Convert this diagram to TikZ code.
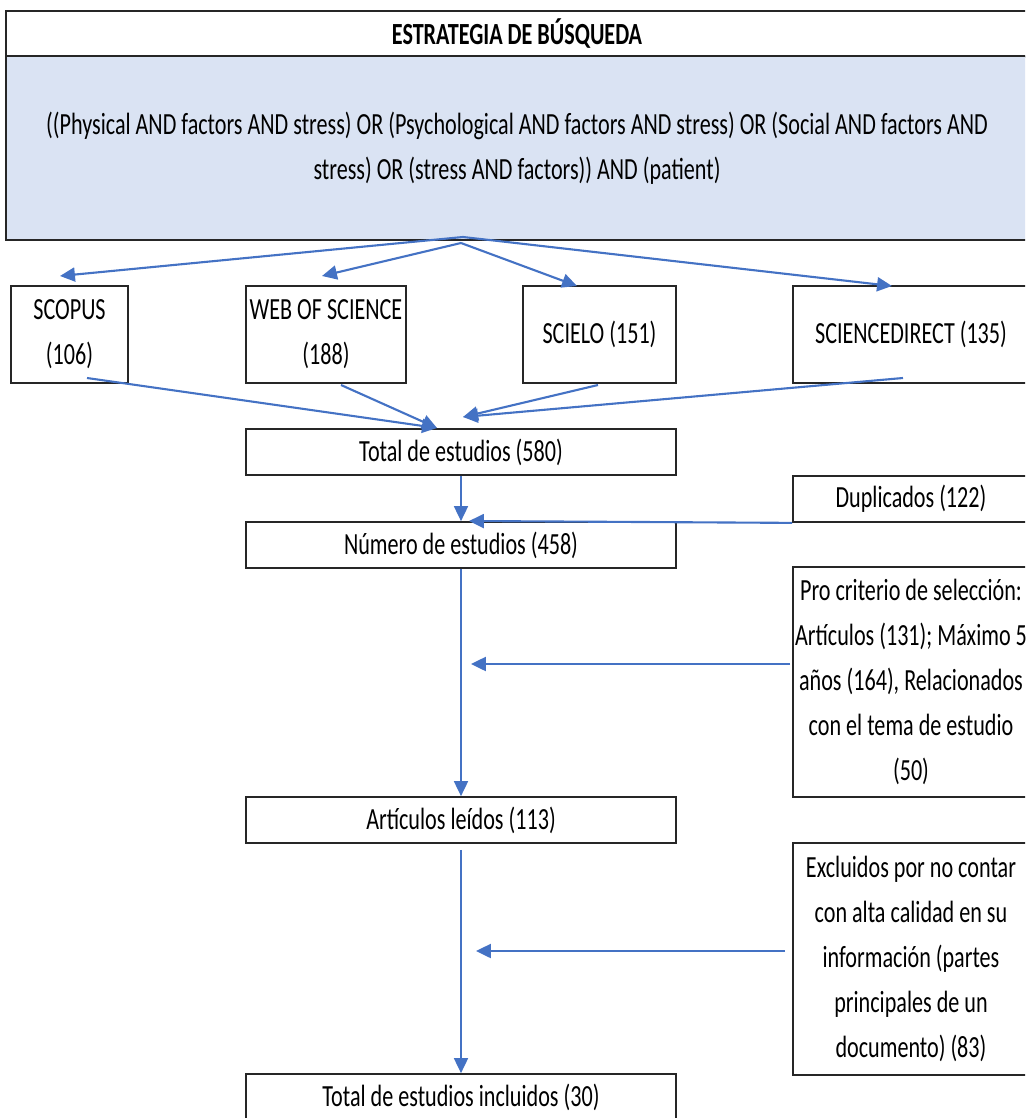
\documentclass[tikz,border=0pt]{standalone}
\usepackage{fontspec}
\setmainfont{Carlito}[FakeStretch=0.72]
\usetikzlibrary{calc,positioning,arrows.meta}
\definecolor{queryBlue}{HTML}{DAE3F3}
\definecolor{flowBlue}{HTML}{4472C4}

\begin{document}
\begin{tikzpicture}[x=0.02cm,y=-0.02cm,>={Triangle[length=8.5pt,width=8pt]}]
  \clip (0,0) rectangle (1025,1118);
  \tikzset{
    stage/.style 2 args={rectangle,draw=black!85,line width=1pt,inner sep=0pt,
      minimum width={#1*0.02cm},minimum height={#2*0.02cm},align=center,
      font=\fontsize{17.5pt}{25.5pt}\selectfont},
    query/.style={fill=queryBlue},
    % edge styles
    flow/.style={->,draw=flowBlue,line width=1.2pt},
    flowThin/.style={->,draw=flowBlue,line width=0.8pt}
  }

  % Search strategy
  \node [stage={1022}{46},font=\fontsize{17.5pt}{25.5pt}\selectfont\bfseries] (title) at (517,34) {ESTRATEGIA DE BÚSQUEDA};
  \node [stage={1022}{184},query] (query) at (517,148)
  {((Physical AND factors AND stress) OR (Psychological AND factors AND stress) OR (Social AND factors AND\\
   stress) OR (stress AND factors)) AND (patient)};

  % Databases
  \node [stage={117}{97}] (scopus) at (69.5,334.5) {SCOPUS\\ (106)};
  \node [stage={160}{97}] (wos) at (326,334.5) {WEB OF SCIENCE\\ (188)};
  \node [stage={153}{97}] (scielo) at (599.5,334.5) {SCIELO (151)};
  \node [stage={236}{97}] (sciDirect) at (911,334.5) {SCIENCEDIRECT (135)};

  % Main flow
  \node [stage={430}{46}] (total) at (461,452) {Total de estudios (580)};
  \node [stage={430}{46}] (numero) at (461,545) {Número de estudios (458)};
  \node [stage={430}{46}] (leidos) at (461,820) {Artículos leídos (113)};
  \node [stage={430}{46}] (incluidos) at (461,1097) {Total de estudios incluidos (30)};

  % Exclusions
  \node [stage={236}{46}] (duplicados) at (911,499) {Duplicados (122)};
  \node [stage={236}{230}] (criterio) at (911,682)
  {Pro criterio de selección:\\ Artículos (131); Máximo 5\\ años (164), Relacionados\\ con el tema de estudio\\ (50)};
  \node [stage={236}{232}] (excluidos) at (911,959)
  {Excluidos por no contar\\ con alta calidad en su\\ información (partes\\ principales de un\\ documento) (83)};

  % Connector ends
  \coordinate (split) at (463,237);
  \coordinate (splitB) at (461,243);
  \coordinate (scopusIn) at (60,276);
  \coordinate (wosIn) at (322,276);
  \coordinate (scieloIn) at (577,286);
  \coordinate (sciDirectIn) at (892,286);
  \coordinate (scopusOut) at (87,378);
  \coordinate (wosOut) at (341,385);
  \coordinate (scieloOut) at (598,385);
  \coordinate (sciDirectOut) at (903,378);
  \coordinate (totalInL) at (437,428);
  \coordinate (totalInR) at (463,417);
  \coordinate (dupIn) at (469,521);
  \coordinate (critIn) at (471,664);
  \coordinate (exclIn) at (476,951);

  % Search to databases
  \draw [flow] (split) -- (scopusIn);
  \draw [flow] (splitB) -- (wosIn);
  \draw [flow] (splitB) -- (scieloIn);
  \draw [flow] (split) -- (sciDirectIn);

  % Databases to total
  \draw [flow] (scopusOut) -- (totalInL);
  \draw [flow] (wosOut) -- (totalInL);
  \draw [flow] (scieloOut) -- (totalInR);
  \draw [flow] (sciDirectOut) -- (totalInR);

  % Vertical flow
  \draw [flowThin] (total.south) -- (numero.north);
  \draw [flowThin] (numero.south) -- (leidos.north);
  \draw [flowThin] ($(leidos.south)+(0,6)$) -- (incluidos.north);

  % Exclusions to flow
  \draw [flow] (duplicados.south west) -- (dupIn);
  \draw [flow] ($(criterio.west)+(-2,-18)$) -- (critIn);
  \draw [flow] ($(excluidos.west)+(-7,-8)$) -- (exclIn);
\end{tikzpicture}
\end{document}
